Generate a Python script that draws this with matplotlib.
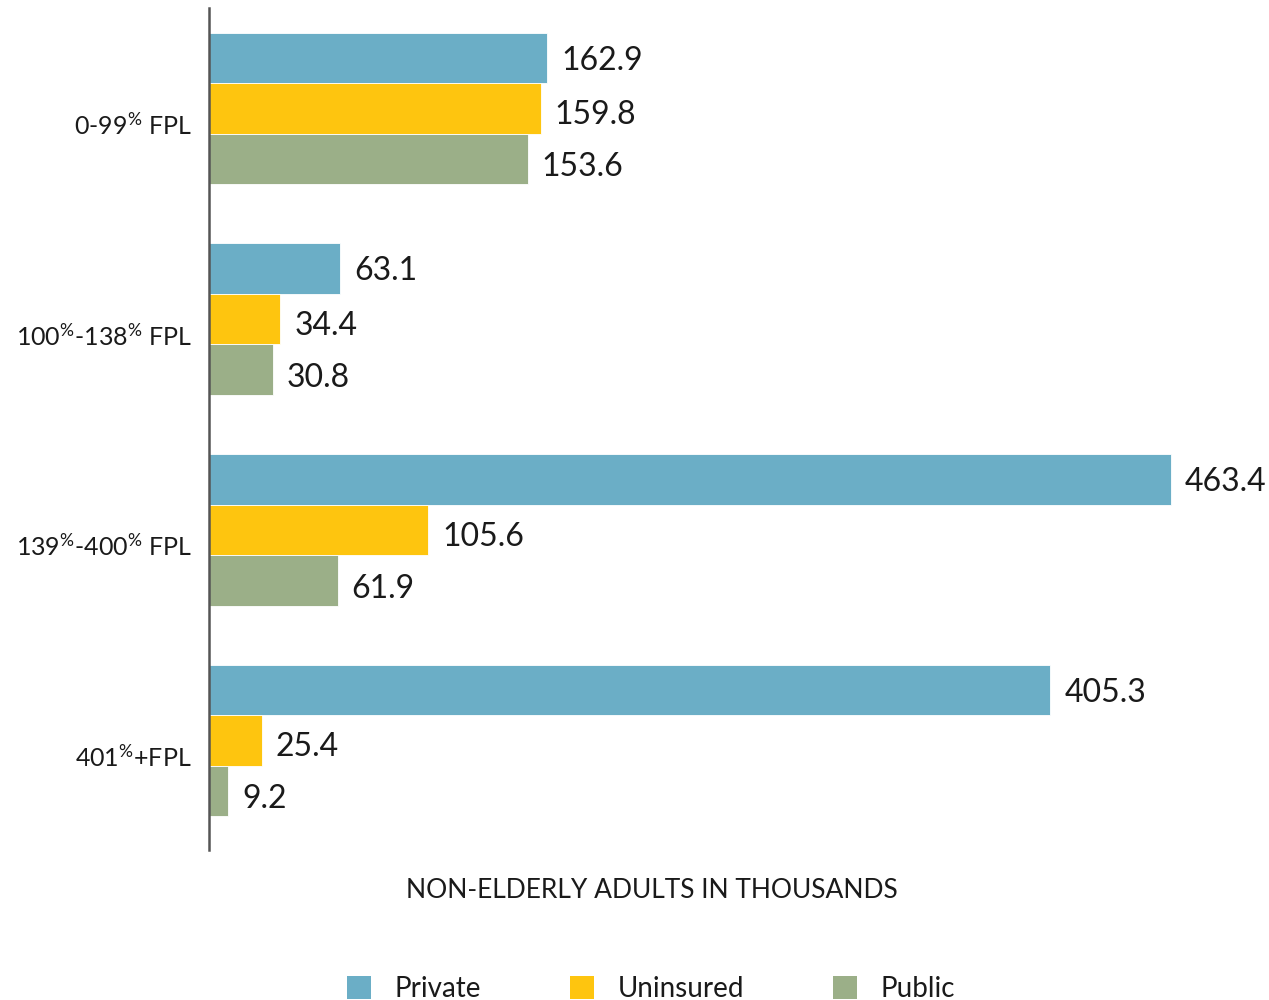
import matplotlib
matplotlib.use("Agg")
import matplotlib.pyplot as plt
from matplotlib.patches import Patch
import numpy as np

plt.rcParams["font.family"] = ["Lato", "DejaVu Sans"]
plt.rcParams["mathtext.fontset"] = "custom"
plt.rcParams["mathtext.rm"] = "Lato"
plt.rcParams["mathtext.it"] = "Lato"
plt.rcParams["mathtext.bf"] = "Lato"

categories = ["0-99% FPL", "100%-138% FPL", "139%-400% FPL", "401%+FPL"]
series_names = ["Private", "Uninsured", "Public"]
private = [162.9, 63.1, 463.4, 405.3]
uninsured = [159.8, 34.4, 105.6, 25.4]
public = [153.6, 30.8, 61.9, 9.2]
colors = ["#6BAEC6", "#FEC50F", "#9BAF88"]

W, H = 1269, 1000
fig = plt.figure(figsize=(W / 100, H / 100), dpi=100)
ax = fig.add_axes([209 / W, 150 / H, (W - 209) / W, 842 / H])

bar_h = 0.24
y = np.arange(len(categories))
offsets = [-bar_h, 0, bar_h]
label_dy = [-2, -5, -6]  # vertical nudge of value labels, points
for vals, off, col, dy in zip([private, uninsured, public], offsets, colors, label_dy):
    ax.barh(y + off, vals, height=bar_h, color=col, edgecolor="white", linewidth=0.6)
    for yi, v in zip(y + off, vals):
        ax.annotate(f"{v:.1f}", (v, yi), xytext=(10, dy), textcoords="offset points",
                    ha="left", va="center", fontsize=23, color="#1a1a1a")

ax.set_xlim(0, (W - 209) / 2.076)
ax.set_ylim(3.52, -0.477)

def fmt(label):
    return label.replace("%", r"$^{\%}$")

ax.set_yticks(y + 0.07)
ax.set_yticklabels([fmt(c) for c in categories], fontsize=18, color="#1a1a1a")
ax.tick_params(axis="y", length=0, pad=12.5)
ax.set_xticks([])
for s in ["top", "right", "bottom"]:
    ax.spines[s].set_visible(False)
ax.spines["left"].set_color("#555555")
ax.spines["left"].set_linewidth(1.8)

fig.text(652 / W, 1 - 891 / H, "NON-ELDERLY ADULTS IN THOUSANDS",
         ha="center", va="center", fontsize=19, color="#1a1a1a")

handles = [Patch(facecolor=c, edgecolor="none") for c in colors]
fig.legend(handles, series_names, loc="lower center", ncol=3,
           bbox_to_anchor=(651 / W, -0.027), frameon=False, fontsize=20,
           handlelength=0.86, handleheight=0.86, handletextpad=0.86,
           columnspacing=3.2, labelcolor="#1a1a1a")

fig.savefig("out.png", dpi=100, facecolor="white")
